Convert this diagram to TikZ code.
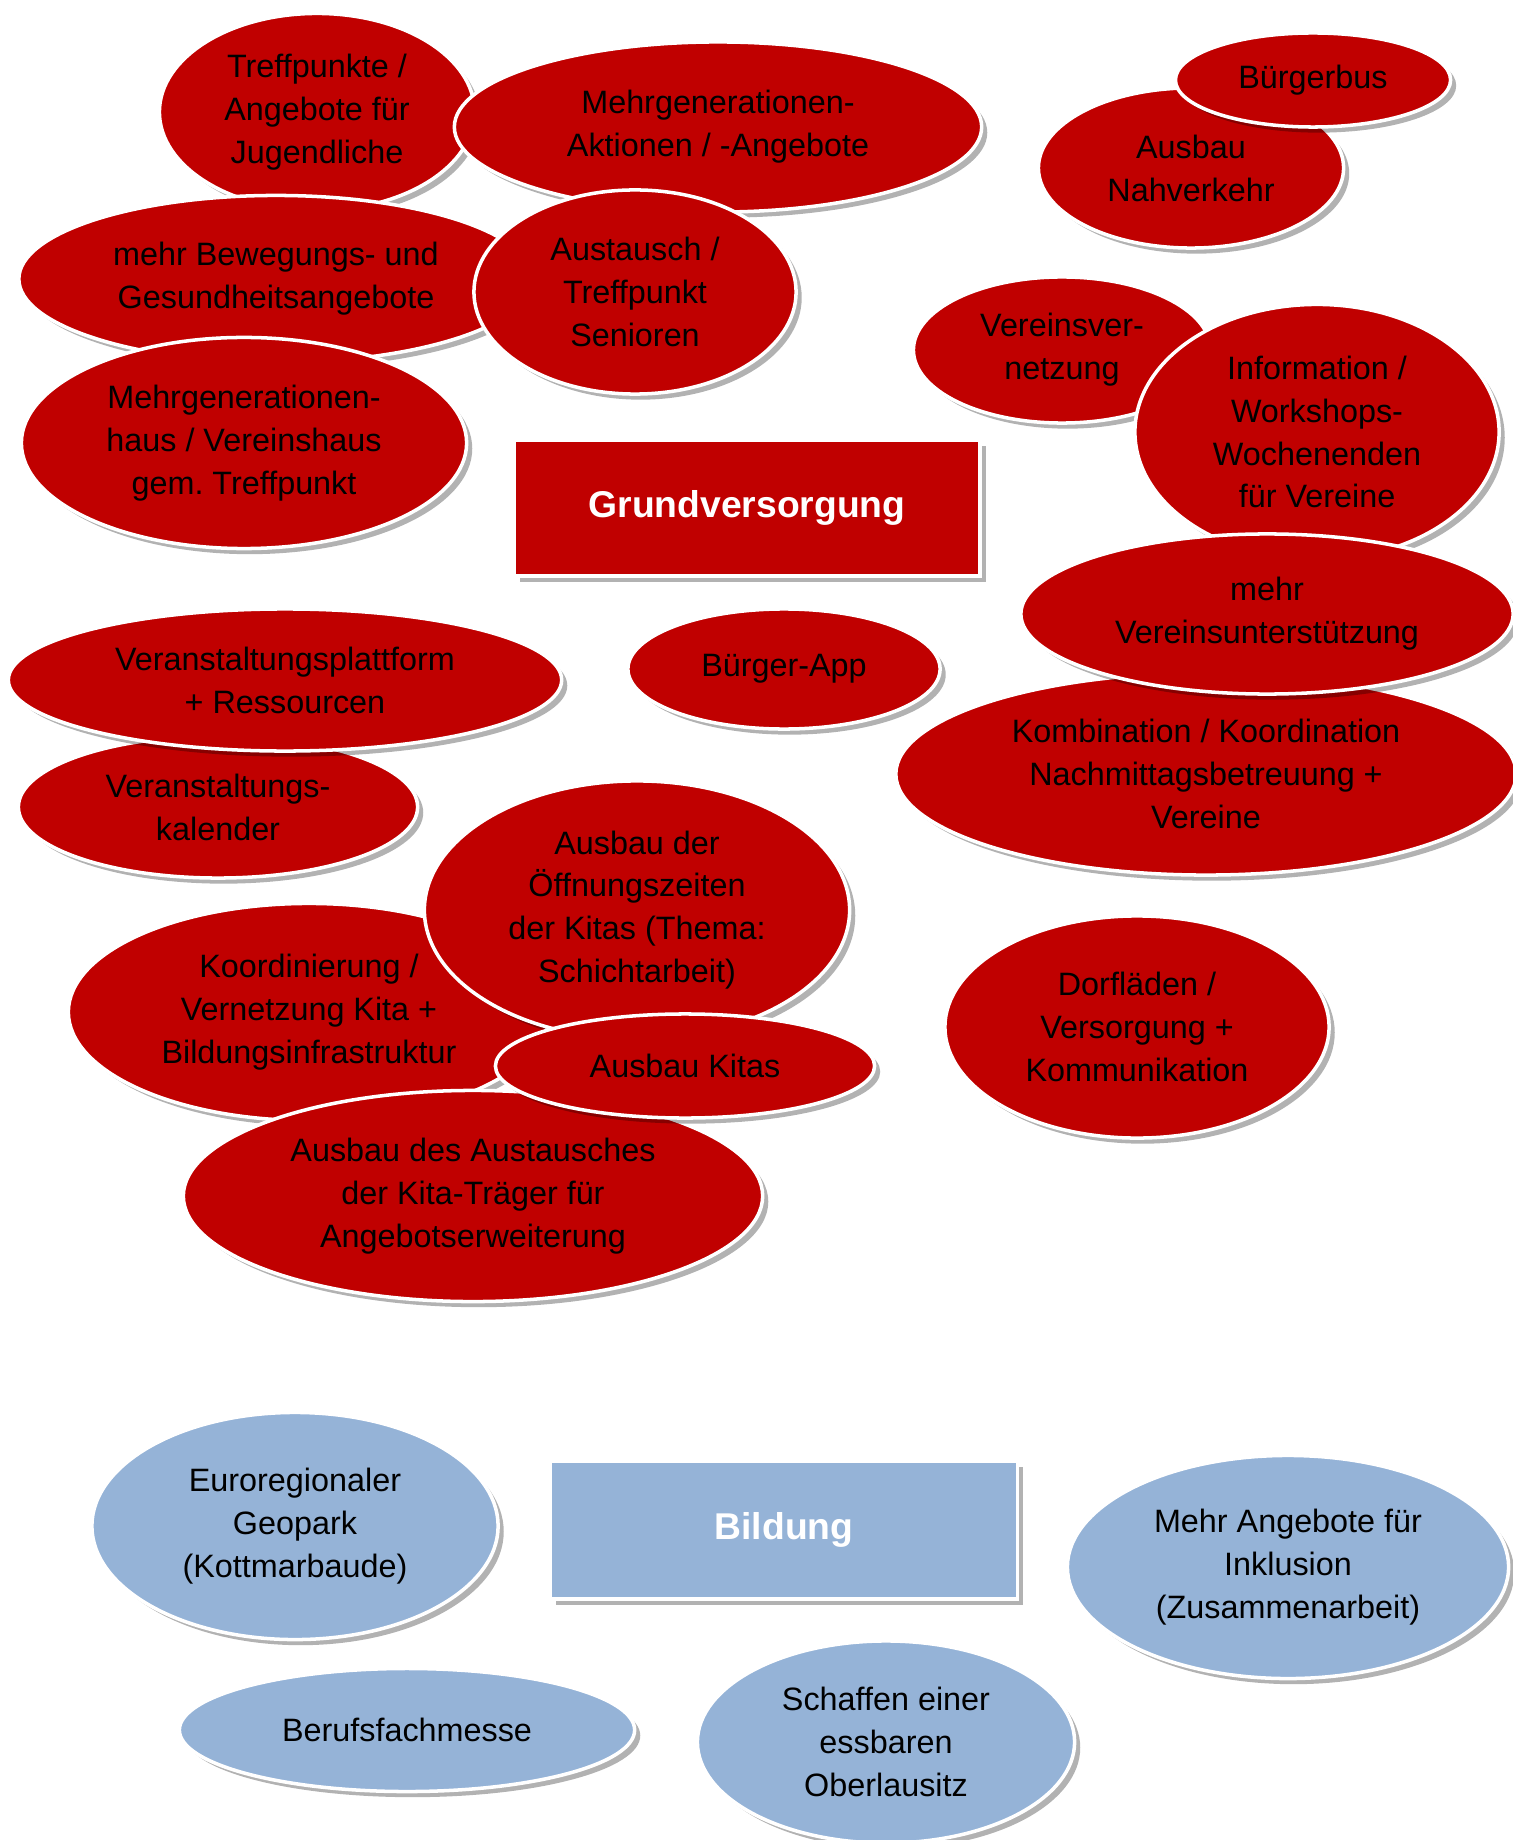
\documentclass[tikz,border=0pt]{standalone}
\usepackage{fontspec}
\setmainfont{Liberation Sans}
\usetikzlibrary{positioning, shapes.geometric, shadows}
\definecolor{ideared}{HTML}{C00000}
\definecolor{ideablue}{HTML}{95B3D7}

\begin{document}
\begin{tikzpicture}[x=0.01cm, y=-0.01cm,
    idea/.style={ellipse, draw=white, line width=1pt, inner sep=0pt, align=center,
        font=\fontsize{9.2}{12.2}\selectfont,
        drop shadow={shadow xshift=1.6pt, shadow yshift=-1.6pt, opacity=0.3, fill=black}},
    red idea/.style={idea, fill=ideared},
    blue idea/.style={idea, fill=ideablue},
    topic box/.style={rectangle, draw=white, line width=1pt, inner sep=0pt, text=white,
        font=\fontsize{10.6}{12.6}\selectfont\bfseries,
        drop shadow={shadow xshift=1.6pt, shadow yshift=-1.6pt, opacity=0.3, fill=black}}
]
        \useasboundingbox (0,0) rectangle (1513,1840);
        \clip (0,0) rectangle (1513,1840);

        % Grundversorgung
        \node[red idea, minimum width=3.15cm, minimum height=1.97cm] (treff) at (317,112) {Treffpunkte /\\Angebote für\\Jugendliche};
        \node[red idea, minimum width=5.27cm, minimum height=1.70cm] (aktion) at (718,127) {Mehrgenerationen-\\Aktionen / -Angebote};
        \node[red idea, minimum width=5.14cm, minimum height=1.67cm] (bewegung) at (276,279) {mehr Bewegungs- und\\Gesundheitsangebote};
        \node[red idea, minimum width=3.22cm, minimum height=2.04cm] (senioren) at (635,292) {Austausch /\\Treffpunkt\\Senioren};
        \node[red idea, minimum width=4.45cm, minimum height=2.11cm] (mgh) at (244,443) {Mehrgenerationen-\\haus / Vereinshaus\\gem.\ Treffpunkt};
        \node[red idea, minimum width=3.05cm, minimum height=1.60cm] (nahverkehr) at (1191,168) {Ausbau\\Nahverkehr};
        \node[red idea, minimum width=2.75cm, minimum height=0.94cm] (buergerbus) at (1313,80) {Bürgerbus};
        \node[red idea, minimum width=2.97cm, minimum height=1.46cm] (vernetzung) at (1062,350) {Vereinsver-\\netzung};
        \node[red idea, minimum width=3.64cm, minimum height=2.55cm] (workshops) at (1317,432) {Information /\\Workshops-\\Wochenenden\\für Vereine};
        \node[red idea, minimum width=6.20cm, minimum height=2.02cm] (kombination) at (1206,774) {Kombination / Koordination\\Nachmittagsbetreuung +\\Vereine};
        \node[red idea, minimum width=4.92cm, minimum height=1.60cm] (unterstuetzung) at (1267,614) {mehr\\Vereinsunterstützung};
        \node[topic box, fill=ideared, minimum width=4.66cm, minimum height=1.36cm] (grund) at (747,508) {Grundversorgung};
        \node[red idea, minimum width=3.99cm, minimum height=1.42cm] (kalender) at (218,807) {Veranstaltungs-\\kalender};
        \node[red idea, minimum width=5.53cm, minimum height=1.42cm] (plattform) at (285,680) {Veranstaltungsplattform\\+ Ressourcen};
        \node[red idea, minimum width=3.12cm, minimum height=1.20cm] (app) at (784,669) {Bürger-App};
        \node[red idea, minimum width=4.81cm, minimum height=2.17cm] (kitanetz) at (309,1012) {Koordinierung /\\Vernetzung Kita +\\Bildungsinfrastruktur};
        \node[red idea, minimum width=4.25cm, minimum height=2.58cm] (oeffnung) at (637,910) {Ausbau der\\Öffnungszeiten\\der Kitas (Thema:\\Schichtarbeit)};
        \node[red idea, minimum width=5.79cm, minimum height=2.11cm] (traeger) at (473,1196) {Ausbau des Austausches\\der Kita-Träger für\\Angebotserweiterung};
        \node[red idea, minimum width=3.79cm, minimum height=1.04cm] (kitas) at (685,1066) {Ausbau Kitas};
        \node[red idea, minimum width=3.84cm, minimum height=2.22cm] (dorf) at (1137,1027) {Dorfläden /\\Versorgung +\\Kommunikation};

        % Bildung
        \node[blue idea, minimum width=4.06cm, minimum height=2.27cm] (geopark) at (295,1526) {Euroregionaler\\Geopark\\(Kottmarbaude)};
        \node[topic box, fill=ideablue, minimum width=4.67cm, minimum height=1.38cm] (bildung) at (784,1530) {Bildung};
        \node[blue idea, minimum width=4.41cm, minimum height=2.23cm] (inklusion) at (1288,1567) {Mehr Angebote für\\Inklusion\\(Zusammenarbeit)};
        \node[blue idea, minimum width=4.55cm, minimum height=1.23cm] (messe) at (407,1730) {Berufsfachmesse};
        \node[blue idea, minimum width=3.77cm, minimum height=2.02cm] (essbar) at (886,1742) {Schaffen einer\\essbaren\\Oberlausitz};
    \end{tikzpicture}
\end{document}
